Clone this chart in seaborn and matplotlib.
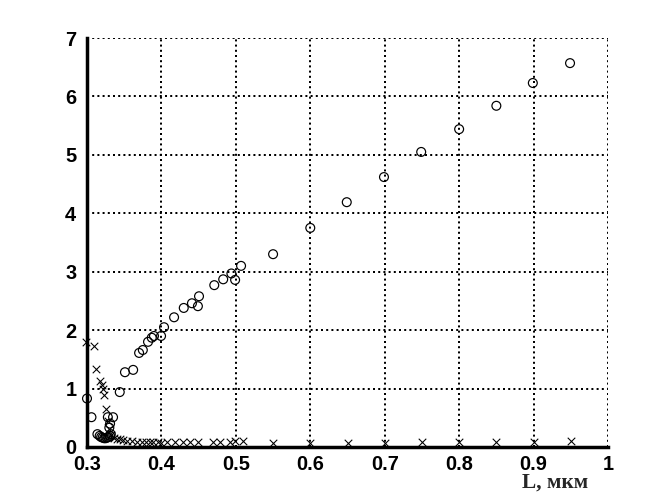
import matplotlib
matplotlib.use("Agg")
import matplotlib.pyplot as plt
import seaborn as sns
import pandas as pd

# circle series
circ_x = [0.300, 0.306, 0.314, 0.317, 0.319, 0.321, 0.323, 0.325, 0.327, 0.329,
          0.331, 0.332, 0.330, 0.331, 0.328, 0.335, 0.344, 0.351, 0.362, 0.370,
          0.375, 0.382, 0.387, 0.390, 0.3995, 0.4035, 0.417, 0.430, 0.441, 0.449,
          0.4505, 0.471, 0.483, 0.494, 0.499, 0.507, 0.550, 0.600, 0.649, 0.699,
          0.749, 0.800, 0.850, 0.899, 0.949]
circ_y = [0.83, 0.51, 0.22, 0.19, 0.17, 0.16, 0.15, 0.15, 0.16, 0.17,
          0.19, 0.22, 0.33, 0.40, 0.51, 0.51, 0.94, 1.28, 1.32, 1.61,
          1.66, 1.80, 1.87, 1.90, 1.90, 2.05, 2.22, 2.38, 2.46, 2.41,
          2.58, 2.77, 2.87, 2.97, 2.86, 3.10, 3.30, 3.75, 4.19, 4.62,
          5.05, 5.44, 5.84, 6.23, 6.57]

# cross series
cross_x = [0.299, 0.309, 0.312, 0.318, 0.320, 0.3215, 0.323, 0.326, 0.328, 0.330,
           0.332, 0.336, 0.340, 0.344, 0.349, 0.354, 0.360, 0.367, 0.374, 0.379,
           0.385, 0.389, 0.395, 0.400, 0.407, 0.418, 0.429, 0.438, 0.449, 0.469,
           0.479, 0.492, 0.499, 0.509, 0.550, 0.600, 0.650, 0.700, 0.750, 0.800,
           0.850, 0.900, 0.950]
cross_y = [1.80, 1.73, 1.34, 1.13, 1.06, 0.99, 0.89, 0.65, 0.45, 0.30,
           0.20, 0.16, 0.14, 0.13, 0.12, 0.11, 0.10, 0.09, 0.09, 0.08,
           0.08, 0.08, 0.08, 0.07, 0.08, 0.08, 0.08, 0.08, 0.08, 0.09,
           0.09, 0.09, 0.10, 0.11, 0.07, 0.07, 0.07, 0.07, 0.08, 0.08,
           0.09, 0.09, 0.10]

x_ticks = [0.3, 0.4, 0.5, 0.6, 0.7, 0.8, 0.9, 1.0]
x_labels = ["0.3", "0.4", "0.5", "0.6", "0.7", "0.8", "0.9", "1"]
y_ticks = [0, 1, 2, 3, 4, 5, 6, 7]
x_title = "L, мкм"

sns.set_style("white")
plt.rcParams['font.family'] = ['Liberation Sans', 'DejaVu Sans']

fig = plt.figure(figsize=(7, 5.25), dpi=96)
ax = fig.add_axes([87/672, 1-447/504, (608-87)/672, (447-38)/504])

df_c = pd.DataFrame({"x": circ_x, "y": circ_y})
df_x = pd.DataFrame({"x": cross_x, "y": cross_y})

sns.scatterplot(data=df_c, x="x", y="y", ax=ax, marker="o", s=44,
                facecolors="none", edgecolor="black", linewidth=0.9, zorder=3,
                clip_on=False)
sns.scatterplot(data=df_x, x="x", y="y", ax=ax, marker="x", s=32,
                color="black", linewidth=0.8, zorder=3, clip_on=False)

ax.set_xlim(0.3, 1.0)
ax.set_ylim(0, 7)
ax.set_xticks(x_ticks)
ax.set_xticklabels(x_labels)
ax.set_yticks(y_ticks)

ax.grid(True, color="black", linestyle=(0, (1, 1.6)), linewidth=1.5)
for s in ["top", "right"]:
    ax.spines[s].set_visible(False)
for s in ["left", "bottom"]:
    ax.spines[s].set_color("black")
    ax.spines[s].set_linewidth(2.6)

ax.tick_params(axis="both", direction="in", length=4, width=2, colors="black",
               labelsize=15)
ax.tick_params(axis="x", pad=6)
ax.tick_params(axis="y", pad=8)
for lab in ax.get_xticklabels() + ax.get_yticklabels():
    lab.set_fontweight("bold")

ax.set_ylabel("")
ax.set_xlabel(x_title, fontfamily="Liberation Serif", fontweight="bold", fontsize=16)
ax.xaxis.set_label_coords(0.898, -0.062)

fig.savefig("out.png", dpi=96, facecolor="white")
